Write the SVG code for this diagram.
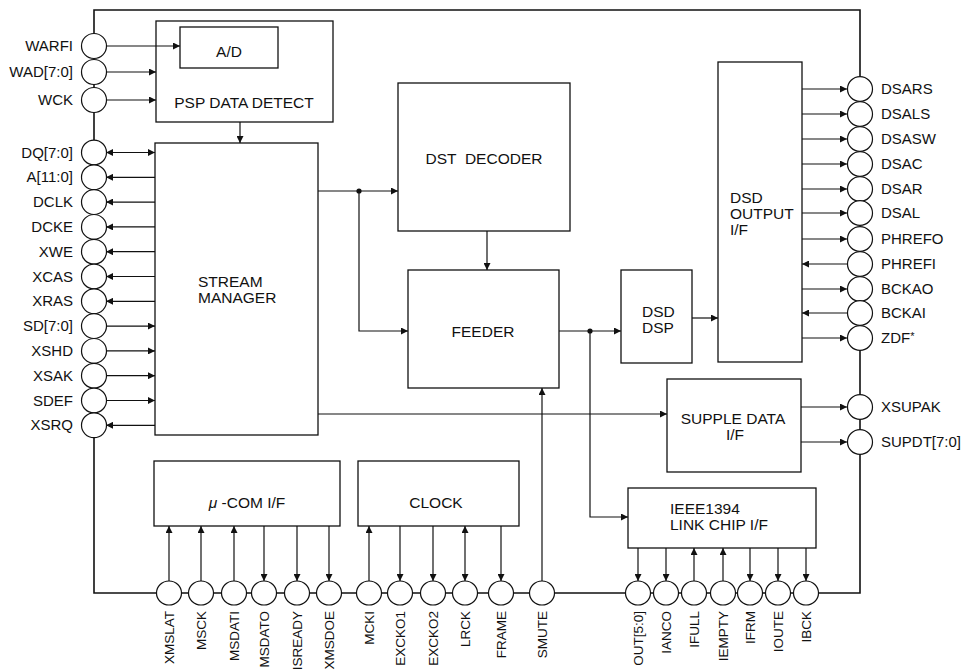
<svg xmlns="http://www.w3.org/2000/svg" width="962" height="670" viewBox="0 0 962 670">
<style>
text{font-family:"Liberation Sans",Arial,sans-serif;fill:#111}
.pin{font-size:15px}
.pl{text-anchor:end}
.pb{font-size:13.5px;text-anchor:end}
.box{fill:#fff;stroke:#111;stroke-width:1.3}
.lbl{font-size:15.5px}
.c{text-anchor:middle}
.wa{fill:none;stroke:#111;stroke-width:1.2;marker-end:url(#ah)}
.wb{fill:none;stroke:#111;stroke-width:1.2;marker-end:url(#ah);marker-start:url(#as)}
.pc{fill:#fff;stroke:#111;stroke-width:1.2}
</style>
<defs>
<marker id="ah" viewBox="0 0 10 10" refX="10" refY="5" markerWidth="9" markerHeight="7" markerUnits="userSpaceOnUse" orient="auto"><path d="M0,0L10,5L0,10z" fill="#111"/></marker>
<marker id="as" viewBox="0 0 10 10" refX="0" refY="5" markerWidth="9" markerHeight="7" markerUnits="userSpaceOnUse" orient="auto"><path d="M10,0L0,5L10,10z" fill="#111"/></marker>
</defs>
<rect width="962" height="670" fill="#fff"/>
<g id="outline"><path d="M94,10H860V593H94Z" fill="none" stroke="#111" stroke-width="1.6"/></g>

<g id="psp"><rect class="box" x="156" y="21" width="177" height="101"/><text class="lbl c" x="244" y="108">PSP DATA DETECT</text></g>
<g id="ad"><rect class="box" x="180" y="27" width="98" height="41"/><text class="lbl c" x="229" y="57">A/D</text></g>
<g id="stream"><rect class="box" x="155" y="143" width="163" height="292"/><text class="lbl" x="198" y="287">STREAM</text><text class="lbl" x="198" y="303">MANAGER</text></g>
<g id="dst"><rect class="box" x="398" y="83" width="172" height="148"/><text class="lbl c" x="484" y="164" xml:space="preserve">DST  DECODER</text></g>
<g id="feeder"><rect class="box" x="408" y="270" width="151" height="118"/><text class="lbl c" x="483" y="337">FEEDER</text></g>
<g id="dsddsp"><rect class="box" x="621" y="270" width="71" height="93"/><text class="lbl" x="642" y="317">DSD</text><text class="lbl" x="642" y="333">DSP</text></g>
<g id="dsdout"><rect class="box" x="718" y="62" width="84" height="300"/><text class="lbl" x="730" y="203">DSD</text><text class="lbl" x="730" y="219">OUTPUT</text><text class="lbl" x="730" y="235">I/F</text></g>
<g id="supple"><rect class="box" x="667" y="379" width="134" height="93"/><text class="lbl c" x="733" y="424">SUPPLE DATA</text><text class="lbl c" x="735" y="440">I/F</text></g>
<g id="ieee"><rect class="box" x="628" y="488" width="188" height="60"/><text class="lbl" x="670" y="514">IEEE1394</text><text class="lbl" x="670" y="530">LINK CHIP I/F</text></g>
<g id="ucom"><rect class="box" x="154" y="461" width="186" height="65"/><text class="lbl c" x="247" y="508"><tspan font-style="italic">μ</tspan> -COM I/F</text></g>
<g id="clock"><rect class="box" x="358" y="461" width="161" height="65"/><text class="lbl c" x="436" y="508">CLOCK</text></g>

<g id="connectors">
<path class="wa" d="M106,46H180"/>
<path class="wa" d="M106,72H156"/>
<path class="wa" d="M106,100H156"/>
<path class="wa" d="M240,122V143"/>
<path class="wb" d="M106,152.5H155"/>
<path class="wa" d="M155,177.3H106"/>
<path class="wa" d="M155,202.1H106"/>
<path class="wa" d="M155,226.9H106"/>
<path class="wa" d="M155,251.7H106"/>
<path class="wa" d="M155,276.5H106"/>
<path class="wa" d="M155,301.3H106"/>
<path class="wa" d="M106,326.1H155"/>
<path class="wa" d="M106,350.9H155"/>
<path class="wa" d="M106,375.7H155"/>
<path class="wa" d="M106,400.5H155"/>
<path class="wa" d="M155,425.3H106"/>
<path class="wa" d="M318,191H398"/>
<path class="wa" d="M359,191V331H408"/>
<circle cx="359" cy="191" r="2.6" fill="#111"/>
<path class="wa" d="M487,231V270"/>
<path class="wa" d="M559,331H621"/>
<path class="wa" d="M590,331V517H628"/>
<circle cx="590" cy="331" r="2.6" fill="#111"/>
<path class="wa" d="M692,318H718"/>
<path class="wa" d="M318,414H667"/>
<path class="wa" d="M542,581V388"/>
<path class="wa" d="M802,89H847"/>
<path class="wa" d="M802,114H847"/>
<path class="wa" d="M802,139H847"/>
<path class="wa" d="M802,164H847"/>
<path class="wa" d="M802,189H847"/>
<path class="wa" d="M802,213H847"/>
<path class="wa" d="M802,239H847"/>
<path class="wa" d="M847,264H802"/>
<path class="wa" d="M802,289H847"/>
<path class="wa" d="M847,313H802"/>
<path class="wa" d="M802,338H847"/>
<path class="wa" d="M801,407H847"/>
<path class="wa" d="M801,442H847"/>
<path class="wa" d="M169,581V526"/>
<path class="wa" d="M201,581V526"/>
<path class="wa" d="M234,581V526"/>
<path class="wa" d="M264,526V581"/>
<path class="wa" d="M297,526V581"/>
<path class="wa" d="M329,526V581"/>
<path class="wa" d="M369,581V526"/>
<path class="wa" d="M400,526V581"/>
<path class="wa" d="M433,526V581"/>
<path class="wb" d="M465,581V526"/>
<path class="wa" d="M501,526V581"/>
<path class="wa" d="M638,548V581"/>
<path class="wa" d="M666,548V581"/>
<path class="wa" d="M694,581V548"/>
<path class="wa" d="M723,581V548"/>
<path class="wa" d="M750,548V581"/>
<path class="wa" d="M778,548V581"/>
<path class="wa" d="M806,548V581"/>
</g>

<g id="pins-left">
<ellipse class="pc" cx="94" cy="46" rx="12.5" ry="12.5"/><text class="pin pl" x="73" y="51">WARFI</text>
<ellipse class="pc" cx="94" cy="72" rx="12.5" ry="12.5"/><text class="pin pl" x="73" y="77">WAD[7:0]</text>
<ellipse class="pc" cx="94" cy="100" rx="12.5" ry="12.5"/><text class="pin pl" x="73" y="105">WCK</text>
<ellipse class="pc" cx="94" cy="152.5" rx="12.5" ry="12.4"/><text class="pin pl" x="73" y="157.5">DQ[7:0]</text>
<ellipse class="pc" cx="94" cy="177.3" rx="12.5" ry="12.4"/><text class="pin pl" x="73" y="182.3">A[11:0]</text>
<ellipse class="pc" cx="94" cy="202.1" rx="12.5" ry="12.4"/><text class="pin pl" x="73" y="207.1">DCLK</text>
<ellipse class="pc" cx="94" cy="226.9" rx="12.5" ry="12.4"/><text class="pin pl" x="73" y="231.9">DCKE</text>
<ellipse class="pc" cx="94" cy="251.7" rx="12.5" ry="12.4"/><text class="pin pl" x="73" y="256.7">XWE</text>
<ellipse class="pc" cx="94" cy="276.5" rx="12.5" ry="12.4"/><text class="pin pl" x="73" y="281.5">XCAS</text>
<ellipse class="pc" cx="94" cy="301.3" rx="12.5" ry="12.4"/><text class="pin pl" x="73" y="306.3">XRAS</text>
<ellipse class="pc" cx="94" cy="326.1" rx="12.5" ry="12.4"/><text class="pin pl" x="73" y="331.1">SD[7:0]</text>
<ellipse class="pc" cx="94" cy="350.9" rx="12.5" ry="12.4"/><text class="pin pl" x="73" y="355.9">XSHD</text>
<ellipse class="pc" cx="94" cy="375.7" rx="12.5" ry="12.4"/><text class="pin pl" x="73" y="380.7">XSAK</text>
<ellipse class="pc" cx="94" cy="400.5" rx="12.5" ry="12.4"/><text class="pin pl" x="73" y="405.5">SDEF</text>
<ellipse class="pc" cx="94" cy="425.3" rx="12.5" ry="12.4"/><text class="pin pl" x="73" y="430.3">XSRQ</text>
</g>

<g id="pins-right">
<ellipse class="pc" cx="860" cy="89" rx="12.5" ry="12.4"/><text class="pin" x="881" y="94">DSARS</text>
<ellipse class="pc" cx="860" cy="114" rx="12.5" ry="12.4"/><text class="pin" x="881" y="119">DSALS</text>
<ellipse class="pc" cx="860" cy="139" rx="12.5" ry="12.4"/><text class="pin" x="881" y="144">DSASW</text>
<ellipse class="pc" cx="860" cy="164" rx="12.5" ry="12.4"/><text class="pin" x="881" y="169">DSAC</text>
<ellipse class="pc" cx="860" cy="189" rx="12.5" ry="12.4"/><text class="pin" x="881" y="194">DSAR</text>
<ellipse class="pc" cx="860" cy="213" rx="12.5" ry="12.4"/><text class="pin" x="881" y="218">DSAL</text>
<ellipse class="pc" cx="860" cy="239" rx="12.5" ry="12.4"/><text class="pin" x="881" y="244">PHREFO</text>
<ellipse class="pc" cx="860" cy="264" rx="12.5" ry="12.4"/><text class="pin" x="881" y="269">PHREFI</text>
<ellipse class="pc" cx="860" cy="289" rx="12.5" ry="12.4"/><text class="pin" x="881" y="294">BCKAO</text>
<ellipse class="pc" cx="860" cy="313" rx="12.5" ry="12.4"/><text class="pin" x="881" y="318">BCKAI</text>
<ellipse class="pc" cx="860" cy="338" rx="12.5" ry="12.4"/><text class="pin" x="881" y="343">ZDF<tspan font-size="11" dy="-3">*</tspan></text>
<ellipse class="pc" cx="860" cy="407" rx="12.5" ry="12.4"/><text class="pin" x="881" y="412">XSUPAK</text>
<ellipse class="pc" cx="860" cy="442" rx="12.5" ry="12.4"/><text class="pin" x="881" y="447">SUPDT[7:0]</text>
</g>

<g id="pins-bottom">
<ellipse class="pc" cx="169" cy="593" rx="12.5" ry="12"/><text class="pb" transform="translate(174,611) rotate(-90)">XMSLAT</text>
<ellipse class="pc" cx="201" cy="593" rx="12.5" ry="12"/><text class="pb" transform="translate(206,611) rotate(-90)">MSCK</text>
<ellipse class="pc" cx="234" cy="593" rx="12.5" ry="12"/><text class="pb" transform="translate(239,611) rotate(-90)">MSDATI</text>
<ellipse class="pc" cx="264" cy="593" rx="12.5" ry="12"/><text class="pb" transform="translate(269,611) rotate(-90)">MSDATO</text>
<ellipse class="pc" cx="297" cy="593" rx="12.5" ry="12"/><text class="pb" transform="translate(302,611) rotate(-90)">ISREADY</text>
<ellipse class="pc" cx="329" cy="593" rx="12.5" ry="12"/><text class="pb" transform="translate(334,611) rotate(-90)">XMSDOE</text>
<ellipse class="pc" cx="369" cy="593" rx="12.5" ry="12"/><text class="pb" transform="translate(374,611) rotate(-90)">MCKI</text>
<ellipse class="pc" cx="400" cy="593" rx="12.5" ry="12"/><text class="pb" transform="translate(405,611) rotate(-90)">EXCKO1</text>
<ellipse class="pc" cx="433" cy="593" rx="12.5" ry="12"/><text class="pb" transform="translate(438,611) rotate(-90)">EXCKO2</text>
<ellipse class="pc" cx="465" cy="593" rx="12.5" ry="12"/><text class="pb" transform="translate(470,611) rotate(-90)">LRCK</text>
<ellipse class="pc" cx="501" cy="593" rx="12.5" ry="12"/><text class="pb" transform="translate(506,611) rotate(-90)">FRAME</text>
<ellipse class="pc" cx="542" cy="593" rx="12.5" ry="12"/><text class="pb" transform="translate(547,611) rotate(-90)">SMUTE</text>
<ellipse class="pc" cx="638" cy="593" rx="12.5" ry="12"/><text class="pb" transform="translate(643,611) rotate(-90)">OUT[5:0]</text>
<ellipse class="pc" cx="666" cy="593" rx="12.5" ry="12"/><text class="pb" transform="translate(671,611) rotate(-90)">IANCO</text>
<ellipse class="pc" cx="694" cy="593" rx="12.5" ry="12"/><text class="pb" transform="translate(699,611) rotate(-90)">IFULL</text>
<ellipse class="pc" cx="723" cy="593" rx="12.5" ry="12"/><text class="pb" transform="translate(728,611) rotate(-90)">IEMPTY</text>
<ellipse class="pc" cx="750" cy="593" rx="12.5" ry="12"/><text class="pb" transform="translate(755,611) rotate(-90)">IFRM</text>
<ellipse class="pc" cx="778" cy="593" rx="12.5" ry="12"/><text class="pb" transform="translate(783,611) rotate(-90)">IOUTE</text>
<ellipse class="pc" cx="806" cy="593" rx="12.5" ry="12"/><text class="pb" transform="translate(811,611) rotate(-90)">IBCK</text>
</g>
</svg>
